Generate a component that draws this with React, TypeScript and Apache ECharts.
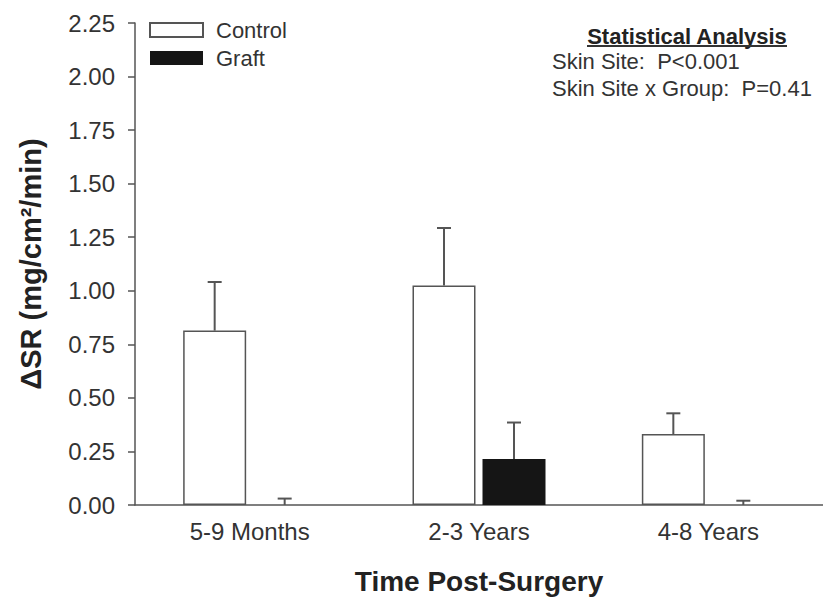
import React, { useEffect, useRef } from "react";
import * as echarts from "echarts";

const categories = ["5-9 Months", "2-3 Years", "4-8 Years"];
const controlValues = [0.814, 1.025, 0.331];
const controlErrors = [0.227, 0.268, 0.097];
const graftValues = [0, 0.215, 0];
const graftErrors = [0.03, 0.17, 0.02];
const yTicks = { min: 0, max: 2.25, interval: 0.25 };
const statTitle = "Statistical Analysis";
const statLines = ["Skin Site:  P<0.001", "Skin Site x Group:  P=0.41"];

const FONT = "'Liberation Sans', Arial, Helvetica, sans-serif";
const BAR_W = 63;
const GAP = 7;
const LINE = "#555";

function errorSeries(name: string, values: number[], errs: number[], offset: number) {
  return {
    type: "custom",
    name: name + " SE",
    silent: true,
    clip: false,
    z: 3,
    data: values.map((v, i) => [i, v, errs[i]]),
    encode: { x: 0, y: 1 },
    renderItem: (params: any, api: any) => {
      const i = api.value(0);
      const v = api.value(1);
      const e = api.value(2);
      const base = api.coord([i, v]);
      const top = api.coord([i, v + e]);
      const x = base[0] + offset;
      const style = { stroke: LINE, lineWidth: 2 };
      return {
        type: "group",
        children: [
          { type: "line", shape: { x1: x, y1: base[1], x2: x, y2: top[1] }, style },
          { type: "line", shape: { x1: x - 7, y1: top[1], x2: x + 7, y2: top[1] }, style },
        ],
      };
    },
  };
}

export default function App() {
  const ref = useRef<HTMLDivElement>(null);
  useEffect(() => {
    if (!ref.current) return;
    const chart = echarts.init(ref.current, undefined, { renderer: "svg" });
    const off = (BAR_W + GAP) / 2;
    chart.setOption({
      animation: false,
      backgroundColor: "#fff",
      textStyle: { fontFamily: FONT },
      grid: { left: 135, right: 0, top: 23, height: 482 },
      legend: {
        left: 149,
        top: 19,
        padding: 0,
        orient: "vertical",
        itemWidth: 53,
        itemHeight: 14,
        itemGap: 6,
        icon: "rect",
        data: ["Control", "Graft"],
        textStyle: { fontSize: 22, color: "#333", fontFamily: FONT, padding: [0, 0, 0, 8] },
      },
      xAxis: {
        type: "category",
        data: categories,
        name: "Time Post-Surgery",
        nameLocation: "middle",
        nameGap: 62,
        nameTextStyle: { fontSize: 28, fontWeight: "bold", color: "#222", fontFamily: FONT },
        axisLine: { lineStyle: { color: LINE, width: 1.5 } },
        axisTick: { show: false },
        axisLabel: { fontSize: 24, color: "#333", margin: 14, fontFamily: FONT },
      },
      yAxis: {
        type: "value",
        min: yTicks.min,
        max: yTicks.max,
        interval: yTicks.interval,
        name: "ΔSR (mg/cm²/min)",
        nameLocation: "middle",
        nameGap: 90,
        nameTextStyle: { fontSize: 29, fontWeight: "bold", color: "#222", fontFamily: FONT },
        axisLine: { show: true, lineStyle: { color: LINE, width: 1.5 } },
        axisTick: { show: true, length: 7, lineStyle: { color: LINE, width: 1.5 } },
        splitLine: { show: false },
        axisLabel: {
          fontSize: 24,
          color: "#333",
          margin: 20,
          fontFamily: FONT,
          formatter: (v: number) => v.toFixed(2),
        },
      },
      series: [
        {
          type: "bar",
          name: "Control",
          data: controlValues,
          barWidth: BAR_W,
          barGap: (GAP / BAR_W) * 100 + "%",
          itemStyle: { color: "#fff", borderColor: LINE, borderWidth: 1.5 },
          z: 2,
        },
        {
          type: "bar",
          name: "Graft",
          data: graftValues,
          barWidth: BAR_W,
          itemStyle: { color: "#151515" },
          z: 2,
        },
        errorSeries("Control", controlValues, controlErrors, -off),
        errorSeries("Graft", graftValues, graftErrors, off),
      ],
      graphic: [
        {
          type: "text",
          x: 687,
          y: 36,
          style: {
            text: statTitle,
            fontSize: 22,
            fontWeight: "bold",
            fill: "#222",
            fontFamily: FONT,
            textAlign: "center",
            textVerticalAlign: "middle",
          },
        },
        {
          type: "line",
          shape: { x1: 587, y1: 46, x2: 787, y2: 46 },
          style: { stroke: "#333", lineWidth: 2 },
        },
        ...statLines.map((t, k) => ({
          type: "text",
          x: 552,
          y: 61 + k * 27,
          style: {
            text: t,
            fontSize: 22,
            fill: "#333",
            fontFamily: FONT,
            textAlign: "left",
            textVerticalAlign: "middle",
          },
        })),
      ],
    });
    return () => chart.dispose();
  }, []);
  return <div ref={ref} style={{ width: 823, height: 601, position: "absolute", left: 0, top: 0 }} />;
}
